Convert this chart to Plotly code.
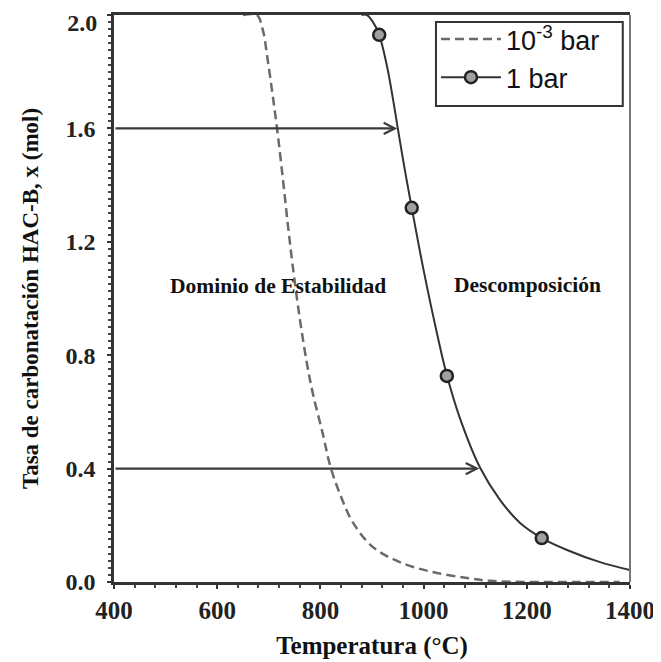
import plotly.graph_objects as go

# ---- data ----
t_1bar = [880, 890, 902, 914, 929, 941, 950, 963, 977, 1000, 1028, 1045, 1070,
          1109, 1148, 1187, 1229, 1278, 1342, 1400]
x_1bar = [2.0, 2.0, 1.975, 1.93, 1.82, 1.70, 1.60, 1.46, 1.32, 1.10, 0.86, 0.73,
          0.58, 0.405, 0.29, 0.208, 0.155, 0.113, 0.07, 0.042]

t_markers = [914, 977, 1045, 1229]
x_markers = [1.93, 1.32, 0.727, 0.155]

t_1e3 = [650, 677, 688, 698, 708, 718, 728, 737, 746, 760, 774, 786, 805, 819,
         838, 863, 902, 954, 1018, 1084, 1130, 1200, 1300, 1380]
x_1e3 = [2.0, 2.0, 1.95, 1.84, 1.71, 1.57, 1.41, 1.26, 1.12, 0.93, 0.77, 0.66,
         0.52, 0.41, 0.31, 0.21, 0.123, 0.07, 0.035, 0.014, 0.004, 0.0, 0.0, 0.0]

arrow_levels = [1.6, 0.4]
arrow_tips = [949, 1108]

y_ticks = [0.0, 0.4, 0.8, 1.2, 1.6]
y_top_tick = [2.0]
x_ticks = [400, 600, 800, 1000, 1200, 1400]

region_labels = ["Dominio de Estabilidad", "Descomposición"]
region_t = [717, 1201]
region_x = [1.044, 1.048]

series_names = ["10<sup>-3</sup> bar", "1 bar"]

SERIF = "Liberation Serif, Times New Roman, serif"
SANS = "Liberation Sans, Arial, sans-serif"
DARK = "#333333"

fig = go.Figure()

# dashed 10^-3 bar curve
fig.add_trace(go.Scatter(x=t_1e3, y=x_1e3, mode="lines", name=series_names[0],
                         line=dict(color="#6a6a6a", width=2.5, dash="9px,5px"),
                         showlegend=True, line_shape="spline"))
# 1 bar curve
fig.add_trace(go.Scatter(x=t_1bar, y=x_1bar, mode="lines", line=dict(color=DARK, width=2),
                         showlegend=False, line_shape="spline"))
# 1 bar markers
fig.add_trace(go.Scatter(x=t_markers, y=x_markers, mode="markers", showlegend=False,
                         marker=dict(symbol="circle", size=12, color="#a0a0a0",
                                     line=dict(color="#222222", width=2.5))))
# legend entry for 1 bar (line + marker)
fig.add_trace(go.Scatter(x=[None], y=[None], mode="lines+markers", name=series_names[1],
                         line=dict(color=DARK, width=2),
                         marker=dict(symbol="circle", size=12, color="#a0a0a0",
                                     line=dict(color="#222222", width=2.5))))
# invisible helper trace so the secondary y axis (top tick label) is drawn
fig.add_trace(go.Scatter(x=[None], y=[None], yaxis="y2", showlegend=False, hoverinfo="skip"))

annotations = []
for lvl, tip in zip(arrow_levels, arrow_tips):
    annotations.append(dict(x=tip, y=lvl, ax=400, ay=lvl, xref="x", yref="y",
                            axref="x", ayref="y", text="", showarrow=True,
                            arrowhead=5, arrowsize=1, arrowwidth=2.2,
                            arrowcolor="#3a3a3a", standoff=0))
for txt, tx, ty in zip(region_labels, region_t, region_x):
    annotations.append(dict(x=tx, y=ty, xref="x", yref="y", text="<b>%s</b>" % txt,
                            showarrow=False, font=dict(family=SERIF, size=21.5, color="#111111")))

# page body adds an 8px offset, so the figure is sized to the remaining window
fig.update_layout(
    width=653, height=654,
    margin=dict(l=106, r=31, t=7, b=80, autoexpand=False),
    paper_bgcolor="white", plot_bgcolor="white",
    showlegend=True,
    legend=dict(x=0.624, y=1.0, xanchor="left", yanchor="top",
                borderwidth=0, bgcolor="rgba(0,0,0,0)",
                font=dict(family=SANS, size=27, color="#111111"),
                itemwidth=60, tracegroupgap=0),
    annotations=annotations,
    shapes=[
        dict(type="line", xref="paper", yref="paper", x0=1, x1=1, y0=0, y1=1,
             line=dict(color="#777777", width=2)),
        # legend frame
        dict(type="rect", xref="paper", yref="paper", x0=0.624, x1=0.986,
             y0=0.8395, y1=0.9877, line=dict(color="#333333", width=2),
             fillcolor="rgba(0,0,0,0)", layer="above"),
    ],
)

fig.update_xaxes(
    range=[400, 1400], tickvals=x_ticks, ticktext=["<b>%d</b>" % v for v in x_ticks],
    showgrid=False, zeroline=False, showline=True, mirror=True, automargin=False,
    linecolor=DARK, linewidth=2.5, ticks="outside", ticklen=4, tickwidth=2,
    tickcolor=DARK, ticklabelstandoff=0, ticklabeloverflow="allow",
    minor=dict(dtick=40, ticks="outside", ticklen=3, tickwidth=1.5, tickcolor="#444444"),
    tickfont=dict(family=SERIF, size=25, color="#222222"),
    title=dict(text="<b>Temperatura (°C)</b>", font=dict(family=SERIF, size=25, color="#111111"),
               standoff=14),
)
fig.update_layout(yaxis=dict(
    range=[0, 2.0], tickvals=y_ticks + y_top_tick,
    ticktext=["<b>%.1f</b>" % v for v in y_ticks] + [""],
    showgrid=False, zeroline=False, showline=True, mirror=False, automargin=False,
    linecolor=DARK, linewidth=2.5, ticks="outside", ticklen=4, tickwidth=2,
    tickcolor=DARK, ticklabelstandoff=7, ticklabeloverflow="allow",
    minor=dict(dtick=0.025, ticks="outside", ticklen=3, tickwidth=1.5, tickcolor="#444444"),
    tickfont=dict(family=SERIF, size=24, color="#222222"),
    title=dict(text="<b>Tasa de carbonatación HAC-B, x (mol)</b>",
               font=dict(family=SERIF, size=23, color="#111111"), standoff=21),
))
# secondary axis carrying only the top label, nudged down like in the reference
fig.update_layout(yaxis2=dict(
    overlaying="y", matches="y", side="left", range=[0, 2.0],
    tickvals=y_top_tick, ticktext=["<b>%.1f</b>" % v for v in y_top_tick],
    showgrid=False, zeroline=False, showline=False, ticks="outside", ticklen=4,
    tickcolor="rgba(0,0,0,0)", automargin=False,
    ticklabelstandoff=7, ticklabelshift=8, ticklabeloverflow="allow",
    tickfont=dict(family=SERIF, size=24, color="#222222"),
))

fig.write_html("out.html")
